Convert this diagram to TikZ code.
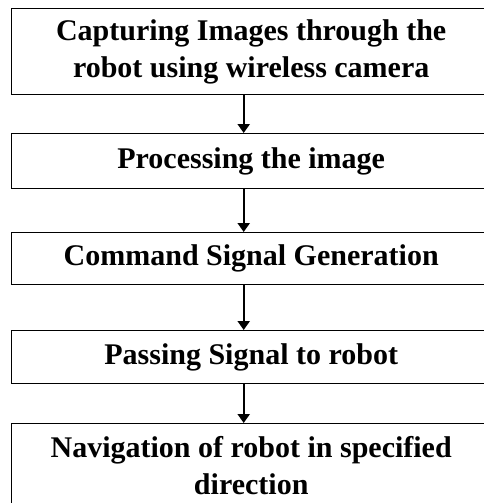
\documentclass[tikz,border=0pt]{standalone}
\usepackage{fontspec}
\setmainfont{Liberation Serif}
\usetikzlibrary{arrows.meta}
\begin{document}
\begin{tikzpicture}[x=1pt,y=-1pt,
  stepbox/.style={draw, line width=1.4pt, rectangle, inner sep=0pt,
    minimum width=479pt, anchor=north west, align=center,
    font=\bfseries\fontsize{30}{36.6}\selectfont},
  flow/.style={line width=2.4pt, -{Triangle[width=12pt,length=9pt]}}]
\useasboundingbox (0,0) rectangle (484,503);
\clip (0,0) rectangle (484,503);
\fill[white] (0,0) rectangle (484,503);
\node[stepbox, minimum height=86pt]  (b1) at (11,8)   {Capturing Images through the\\robot using wireless camera};
\node[stepbox, minimum height=55pt]  (b2) at (11,133) {Processing the image};
\node[stepbox, minimum height=52pt]  (b3) at (11,232) {Command Signal Generation};
\node[stepbox, minimum height=53pt]  (b4) at (11,330) {Passing Signal to robot};
\node[stepbox, minimum height=84pt]  (b5) at (11,423) {Navigation of robot in specified\\direction};
\foreach \a/\b in {b1/b2, b2/b3, b3/b4, b4/b5}
  \draw[flow] ([xshift=-7.5pt]\a.south) -- ([xshift=-7.5pt]\b.north);
\end{tikzpicture}
\end{document}
